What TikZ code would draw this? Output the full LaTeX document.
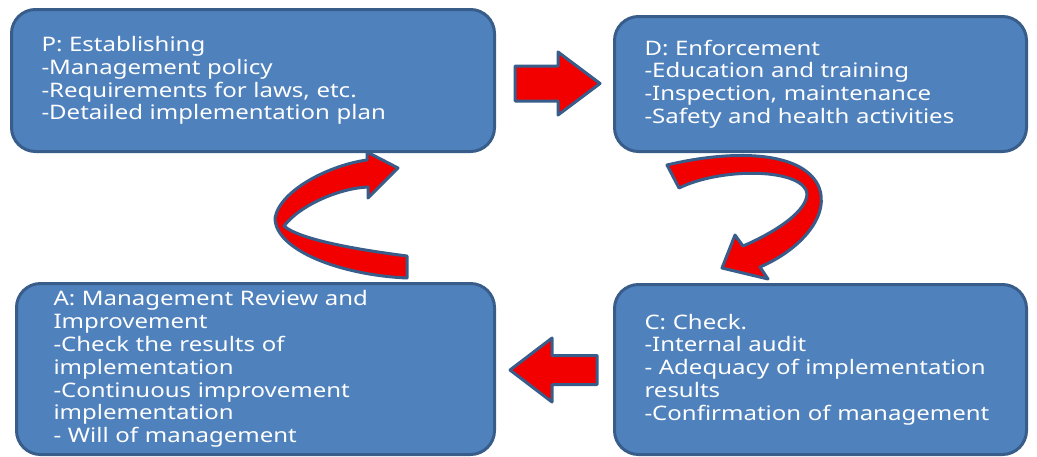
\documentclass[tikz,border=0pt]{standalone}
\usepackage{fontspec}
\setmainfont{Noto Sans}[FakeStretch=1.2]
\usepackage{tikz}
\usetikzlibrary{positioning}
\tikzstyle{pixels} = [x = 0.5pt, y = -0.5pt]
\definecolor{boxFill}{RGB}{79,129,189}
\definecolor{boxBorder}{RGB}{56,93,138}
\definecolor{arrowRed}{RGB}{242,0,0}
\newcommand{\phaseFont}{\fontsize{10}{11.4}\selectfont\hyphenpenalty=10000}
\tikzstyle{phaseBox} = [draw=boxBorder, fill=boxFill, line width=1.5pt, rounded corners=12pt, anchor=north west, align=left, text=white, font=\phaseFont, inner ysep=0pt]
\tikzstyle{blockArrow} = [draw=boxBorder, fill=arrowRed, line width=1.5pt, line join=round]
\newcommand{\rightBlock}[2]{\filldraw [blockArrow] (#1, #2) ++(0,-17.5) -- ++(43,0) -- ++(0,-14) -- ++(42,31.5) -- ++(-42,31.5) -- ++(0,-14) -- ++(-43,0) -- cycle;}
\newcommand{\leftBlock}[2]{\filldraw [blockArrow] (#1, #2) ++(0,-14.5) -- ++(-45,0) -- ++(0,-17.5) -- ++(-42,32) -- ++(42,32) -- ++(0,-17.5) -- ++(45,0) -- cycle;}

\begin{document}
\begin{tikzpicture}[pixels]
  \useasboundingbox (0,0) rectangle (1037,456);

  \node [phaseBox, minimum width=241.5pt, minimum height=71pt, text width=211.5pt, inner xsep=15pt] (plan) at (10,8)
    {P: Establishing\\-Management policy\\-Requirements for laws, etc.\\-Detailed implementation plan};
  \node [phaseBox, minimum width=206pt, minimum height=67.5pt, text width=176pt, inner xsep=15pt] (do) at (613,15)
    {D: Enforcement\\-Education and training\\-Inspection, maintenance\\-Safety and health activities};
  \node [phaseBox, minimum width=239pt, minimum height=85.5pt, text width=202pt, inner xsep=18.5pt] (act) at (15,282)
    {A: Management Review and\\Improvement\\-Check the results of\\implementation\\-Continuous improvement\\implementation\\- Will of management};
  \node [phaseBox, minimum width=206pt, minimum height=85pt, text width=176pt, inner xsep=15pt] (check) at (613,283)
    {C: Check.\\-Internal audit\\- Adequacy of implementation\\results\\-Confirmation of management};

  % straight arrows
  \rightBlock{515}{83.5}
  \leftBlock{597}{370}

  % curved arrow from D down to C
  \filldraw [blockArrow] (667,165) .. controls (730,150) and (800,150) .. (818,185)
    .. controls (832,215) and (800,250) .. (760,267)
    -- (768,279) -- (722,268) -- (735,235) -- (743,246)
    .. controls (785,228) and (812,205) .. (806,190)
    .. controls (795,168) and (720,168) .. (679,188) -- cycle;

  % curved arrow from A up to P
  \filldraw [blockArrow] (407,256) .. controls (360,250) and (300,240) .. (284,226)
    .. controls (300,205) and (340,188) .. (368,187)
    -- (368,198) -- (398,168) -- (367,152) -- (367,160)
    .. controls (330,165) and (280,190) .. (275,218)
    .. controls (275,250) and (340,275) .. (407,278) -- cycle;
\end{tikzpicture}
\end{document}
